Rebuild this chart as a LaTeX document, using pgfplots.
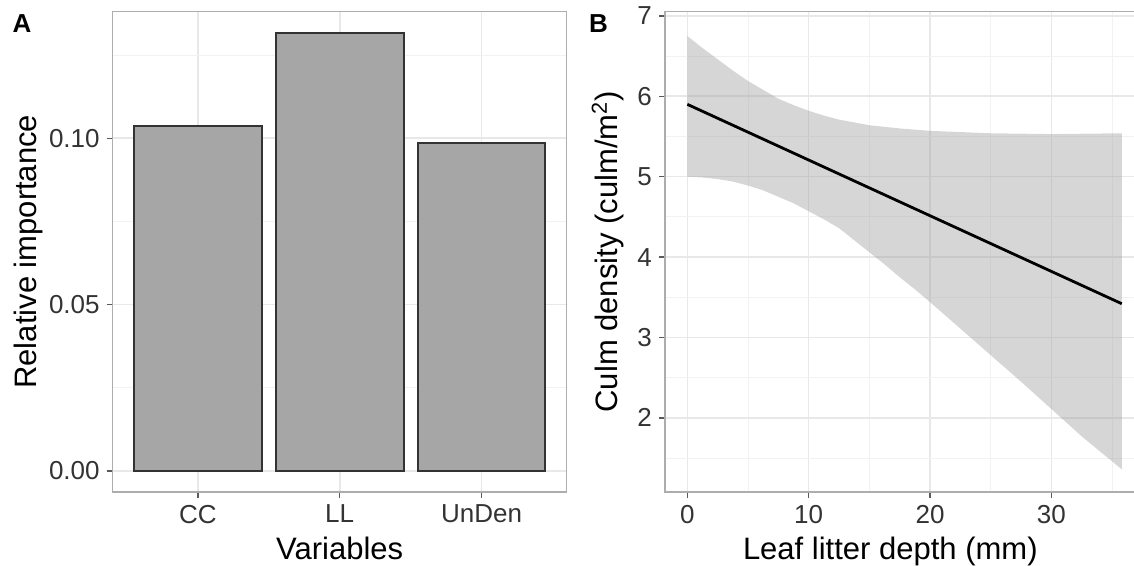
\documentclass[border=0pt]{standalone}
\usepackage{pgfplots}
\pgfplotsset{compat=1.18}
\usepackage{fontspec}
\setmainfont{Liberation Sans}

\definecolor{gridmaj}{gray}{0.91}
\definecolor{gridmin}{gray}{0.95}
\definecolor{framec}{gray}{0.68}
\definecolor{tickc}{gray}{0.35}
\definecolor{barfill}{gray}{0.65}
\definecolor{barline}{gray}{0.2}

\pgfplotsset{
  gg/.style={
    scale only axis,
    axis line style={framec, line width=0.7pt},
    tick pos=left,
    tick align=outside,
    major tick length=3pt,
    minor tick length=0pt,
    every tick/.append style={tickc, line width=0.7pt},
    grid=both,
    major grid style={gridmaj, line width=0.8pt},
    minor grid style={gridmin, line width=0.5pt},
    tick label style={font=\fontsize{13}{15}\selectfont, text=black!80},
    label style={font=\fontsize{15.5}{18}\selectfont},
    /pgf/number format/assume math mode=true,
  }
}

\begin{document}
\begin{tikzpicture}
\useasboundingbox (0,0) rectangle (567pt,283pt);
\clip (0,0) rectangle (567pt,283pt);

% panel A: relative importance
\begin{axis}[gg,
  at={(56.35pt,37pt)}, anchor=south west,
  width=227pt, height=240.25pt,
  xmin=0.4, xmax=3.6,
  ymin=-0.00631, ymax=0.13811,
  xtick={1,2,3}, xticklabels={CC,LL,UnDen},
  ytick={0,0.05,0.1},
  minor ytick={0.025,0.075,0.125},
  yticklabel style={/pgf/number format/.cd, fixed, fixed zerofill, precision=2},
  xlabel={Variables},
  ylabel={Relative importance},
  ylabel shift=-4pt,
]
  \addplot[ybar, bar width=0.9, fill=barfill, draw=barline, line width=1pt]
    coordinates {(1,0.1037) (2,0.1317) (3,0.0985)};
\end{axis}

% panel B: culm density vs leaf litter
\begin{axis}[gg,
  at={(332.5pt,37pt)}, anchor=south west,
  width=239.3pt, height=240.25pt,
  xmin=-1.84, xmax=37.6,
  ymin=1.078, ymax=7.055,
  xtick={0,10,20,30}, minor xtick={5,15,25,35},
  ytick={2,3,4,5,6,7}, minor ytick={1.5,2.5,3.5,4.5,5.5,6.5},
  xlabel={Leaf litter depth (mm)},
  xlabel style={xshift=-7pt},
  ylabel={Culm density (culm/m\textsuperscript{2})},
]
  % 95% band: upper edge left to right, then lower edge right to left
  \addplot[fill=black!40, fill opacity=0.4, draw=none] coordinates {
    (0,6.75) (1.25,6.60) (2.5,6.46) (3.75,6.32) (5,6.19) (6.25,6.08)
    (7.5,5.97) (8.75,5.89) (10,5.82) (11.25,5.76) (12.5,5.71) (15,5.64)
    (17.5,5.60) (20,5.57) (25,5.54) (30,5.53) (35.8,5.54)
    (35.8,1.36) (32.5,1.77) (30,2.11) (27.5,2.45) (25,2.78) (22.5,3.11)
    (20,3.44) (18.75,3.60) (17.5,3.75) (16.25,3.91) (15,4.06) (13.75,4.21)
    (12.5,4.36) (11.25,4.47) (10,4.57) (8.75,4.67) (7.5,4.75) (6.25,4.83)
    (5,4.89) (3.75,4.94) (2.5,4.97) (1.25,4.99) (0,5.00)
  } -- cycle;
  \addplot[black, line width=1.4pt] coordinates {(0,5.90) (35.8,3.42)};
\end{axis}

\node[font=\bfseries\fontsize{13}{14}\selectfont] at (11pt,271.25pt) {A};
\node[font=\bfseries\fontsize{13}{14}\selectfont] at (299.25pt,271.25pt) {B};
\end{tikzpicture}
\end{document}
